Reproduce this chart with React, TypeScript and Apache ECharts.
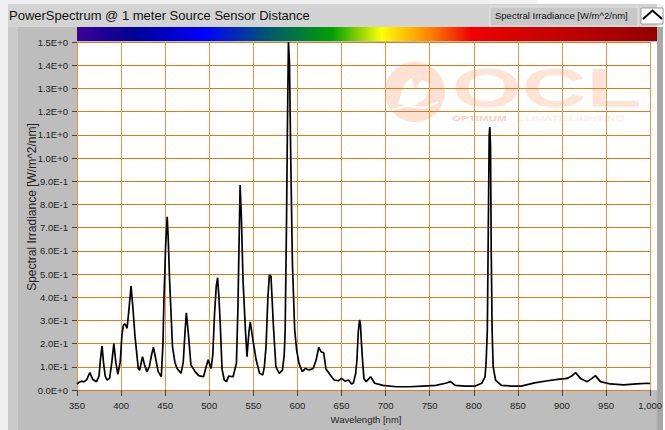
import React, { useEffect, useRef } from "react";
import * as echarts from "echarts";

const TITLE = "PowerSpectrum @ 1 meter Source Sensor Distance";
const SERIES_NAME = "Spectral Irradiance [W/m^2/nm]";
const X_NAME = "Wavelength [nm]";
const Y_NAME = "Spectral Irradiance [W/m^2/nm]";

const yTickLabels = [
  "0.0E+0", "1.0E-1", "2.0E-1", "3.0E-1", "4.0E-1", "5.0E-1", "6.0E-1", "7.0E-1",
  "8.0E-1", "9.0E-1", "1.0E+0", "1.1E+0", "1.2E+0", "1.3E+0", "1.4E+0", "1.5E+0",
];

const wavelengths = [
  350, 351.5, 355, 358, 361, 364.6, 368, 372, 375, 376.5, 378.4, 380, 382, 384, 387, 389.5,
  391.8, 394, 396.3, 399, 401, 402.7, 404.5, 406.8, 408.5, 411.3, 413.5, 415.8, 419.5, 421,
  424.3, 426.5, 429.2, 432, 434.5, 436.7, 439, 442, 445.6, 447.5, 448.6, 450.5, 452.3, 453.5,
  455, 458.3, 461, 463.5, 468, 470.5, 472.5, 474, 476.6, 479.2, 484, 488, 493.5, 496.5, 498.7,
  502, 504, 506, 508, 509.5, 511, 512.5, 514.5, 517, 519.6, 522, 527, 530.8, 532.5, 533.4, 535,
  536.4, 538.3, 541, 542.8, 545, 546.5, 549.5, 553.2, 557, 560.7, 562.5, 564.4, 566.5, 568.2,
  570, 573, 575.6, 579.4, 583, 585, 586.1, 587.6, 588.7, 589.8, 591, 592.4, 594.3, 596.9,
  599.1, 601.8, 605.5, 609.2, 613, 617.8, 621.2, 624.2, 626.8, 629.8, 632.4, 637.2, 641.7,
  646.6, 650, 654, 657.8, 661.5, 663.4, 666, 667.5, 669, 670.5, 671.5, 672.8, 674, 675.4, 678,
  683, 687.7, 697, 712, 727, 742, 757, 768, 773.6, 779, 790.4, 801.6, 809, 812.8, 814, 815.4,
  816.5, 817.5, 818.2, 819, 819.8, 820.8, 822, 824.7, 831.4, 842.6, 853.8, 868.9, 883.8, 895,
  906, 911, 915.5, 921, 928.7, 934, 938, 943.6, 954.8, 969.7, 984.6, 997.7, 1000,
];

const irradiance = [
  0.025, 0.031, 0.038, 0.035, 0.045, 0.075, 0.045, 0.036, 0.06, 0.13, 0.19, 0.12, 0.06, 0.043, 0.05, 0.12,
  0.2, 0.12, 0.068, 0.12, 0.24, 0.28, 0.285, 0.266, 0.33, 0.448, 0.35, 0.23, 0.093, 0.085,
  0.144, 0.11, 0.079, 0.1, 0.15, 0.184, 0.14, 0.08, 0.057, 0.2, 0.388, 0.62, 0.747, 0.65,
  0.474, 0.187, 0.12, 0.093, 0.072, 0.12, 0.25, 0.333, 0.23, 0.108, 0.079, 0.062, 0.057, 0.1, 0.13,
  0.093, 0.15, 0.33, 0.45, 0.484, 0.4, 0.28, 0.09, 0.043, 0.036, 0.06, 0.057, 0.115, 0.35, 0.546, 0.884,
  0.747, 0.474, 0.259, 0.144, 0.25, 0.294, 0.216, 0.129, 0.072, 0.065, 0.1, 0.187, 0.4, 0.496,
  0.49, 0.259, 0.1, 0.072, 0.086, 0.15, 0.259, 0.718, 1.149, 1.5, 1.41, 1.006, 0.546, 0.259,
  0.172, 0.115, 0.079, 0.093, 0.086, 0.093, 0.129, 0.184, 0.165, 0.16, 0.09, 0.065, 0.043,
  0.04, 0.05, 0.038, 0.043, 0.026, 0.03, 0.07, 0.13, 0.25, 0.302, 0.28, 0.19, 0.12, 0.05, 0.036,
  0.057, 0.029, 0.02, 0.014, 0.014, 0.017, 0.02, 0.029, 0.036, 0.02, 0.017, 0.017, 0.029, 0.057, 0.12, 0.259,
  0.7, 1.1, 1.133, 1.05, 0.6, 0.259, 0.1, 0.043, 0.02, 0.017, 0.017, 0.031, 0.04, 0.046,
  0.05, 0.06, 0.075, 0.05, 0.036, 0.05, 0.062, 0.036, 0.026, 0.022, 0.026, 0.029, 0.028,
];

const SANS = "'Liberation Sans', Arial, sans-serif";

export default function App() {
  const ref = useRef<HTMLDivElement>(null);

  useEffect(() => {
    document.body.style.margin = "0";
    if (!ref.current) return;
    const chart = echarts.init(ref.current, undefined, { renderer: "svg" });
    const data = wavelengths.map((w, i) => [w, irradiance[i]]);

    const spectrumGradient = new echarts.graphic.LinearGradient(0, 0, 1, 0, [
      { offset: 0, color: "#3c0096" },
      { offset: 0.1, color: "#000096" },
      { offset: 0.22, color: "#0000ff" },
      { offset: 0.32, color: "#00507a" },
      { offset: 0.44, color: "#00a000" },
      { offset: 0.525, color: "#ffff00" },
      { offset: 0.61, color: "#ff8000" },
      { offset: 0.68, color: "#f00000" },
      { offset: 1, color: "#940000" },
    ]);

    chart.setOption({
      animation: false,
      backgroundColor: "#f0f0f0",
      grid: { left: 77, right: 8, top: 42, bottom: 40, containLabel: false },
      xAxis: {
        type: "value",
        min: 350,
        max: 1000,
        interval: 50,
        axisLine: { show: false },
        axisTick: { show: true, length: 6, lineStyle: { color: "#444" } },
        axisLabel: { margin: 10, fontSize: 9.5, color: "#222", fontFamily: SANS, showMinLabel: true, showMaxLabel: true },
        splitLine: { show: true, lineStyle: { color: "#e9944a", width: 1 } },
      },
      yAxis: {
        type: "value",
        min: 0,
        max: 1.5,
        interval: 0.1,
        axisLine: { show: false },
        axisTick: { show: true, length: 5, lineStyle: { color: "#444" } },
        axisLabel: {
          margin: 9,
          fontSize: 9.5,
          color: "#222",
          fontFamily: SANS,
          formatter: (v: number) => yTickLabels[Math.round(v * 10)] ?? "",
        },
        splitLine: { show: true, lineStyle: { color: "#e07b1a", width: 1 } },
      },
      series: [
        {
          name: SERIES_NAME,
          type: "line",
          data,
          showSymbol: false,
          symbol: "none",
          clip: true,
          lineStyle: { color: "#000", width: 1.7 },
          z: 5,
        },
      ],
      graphic: [
        { type: "rect", z: -20, shape: { x: 537, y: 0, width: 128, height: 4 }, style: { fill: "#ffffff" } },
        { type: "rect", z: -20, shape: { x: 8, y: 4, width: 649, height: 23 }, style: { fill: "#d3d3d3" } },
        { type: "rect", z: -20, shape: { x: 8, y: 27, width: 10, height: 403 }, style: { fill: "#cacaca" } },
        { type: "rect", z: -20, shape: { x: 18, y: 27, width: 639, height: 403 }, style: { fill: "#bdbdbd" } },
        { type: "rect", z: -20, shape: { x: 657, y: 27, width: 6, height: 403 }, style: { fill: "#a8a8a8" } },
        { type: "rect", z: -20, shape: { x: 663, y: 4, width: 2, height: 426 }, style: { fill: "#ffffff" } },
        { type: "rect", z: -19, shape: { x: 77, y: 42, width: 580, height: 348 }, style: { fill: "#ffffff" } },
        { type: "rect", z: -19, shape: { x: 77, y: 27, width: 580, height: 14 }, style: { fill: spectrumGradient } },
        // watermark logo
        { type: "circle", z: -18, shape: { cx: 415, cy: 92, r: 30 }, style: { fill: "#fde2d4" } },
        {
          type: "polygon", z: -17,
          shape: { points: [[398, 104], [404, 84], [412, 78], [414, 90], [422, 80], [430, 84], [426, 98], [414, 106]] },
          style: { fill: "#ffffff" },
        },
        { type: "polyline", z: -17, shape: { points: [[392, 110], [406, 106], [424, 108], [438, 102]] }, style: { stroke: "#ffffff", lineWidth: 2, fill: "none" } },
        {
          type: "text", z: -18, x: 452, y: 88, scaleX: 1.6, scaleY: 1,
          style: { text: "OCL", fill: "#fde4d7", font: "bold 56px " + SANS, textAlign: "left", textVerticalAlign: "middle" },
        },
        {
          type: "text", z: -18, x: 452, y: 118.5, scaleX: 1.45,
          style: { text: "OPTIMUM", fill: "#f9d0b8", font: "bold 8px " + SANS, textAlign: "left", textVerticalAlign: "middle" },
        },
        {
          type: "text", z: -18, x: 517, y: 118.5, scaleX: 1.45,
          style: { text: "CLIMATE LIGHTING", fill: "#fce8dd", font: "8px " + SANS, textAlign: "left", textVerticalAlign: "middle" },
        },
        // title
        {
          type: "text", x: 9, y: 15.5,
          style: { text: TITLE, fill: "#111", font: "13px " + SANS, textAlign: "left", textVerticalAlign: "middle" },
        },
        // legend
        {
          type: "rect", shape: { x: 490, y: 7, width: 148, height: 19 },
          style: { fill: "#c7c7c7", stroke: "#e2e2e2", lineWidth: 1 },
        },
        {
          type: "text", x: 495, y: 15.5,
          style: { text: SERIES_NAME, fill: "#111", font: "9.5px " + SANS, textAlign: "left", textVerticalAlign: "middle" },
        },
        { type: "rect", shape: { x: 641, y: 8, width: 22, height: 16 }, style: { fill: "#ffffff", stroke: "#9a9a9a", lineWidth: 1 } },
        { type: "polyline", shape: { points: [[643, 19], [652.5, 10.5], [662, 19]] }, style: { stroke: "#000", lineWidth: 2, fill: "none" } },
        // axis names
        {
          type: "text", x: 32, y: 207, rotation: Math.PI / 2,
          style: { text: Y_NAME, fill: "#222", font: "12px " + SANS, textAlign: "center", textVerticalAlign: "middle" },
        },
        {
          type: "text", x: 366, y: 419,
          style: { text: X_NAME, fill: "#222", font: "9.5px " + SANS, textAlign: "center", textVerticalAlign: "middle" },
        },
      ],
    });
    return () => chart.dispose();
  }, []);

  return <div ref={ref} style={{ width: 665, height: 430 }} />;
}
